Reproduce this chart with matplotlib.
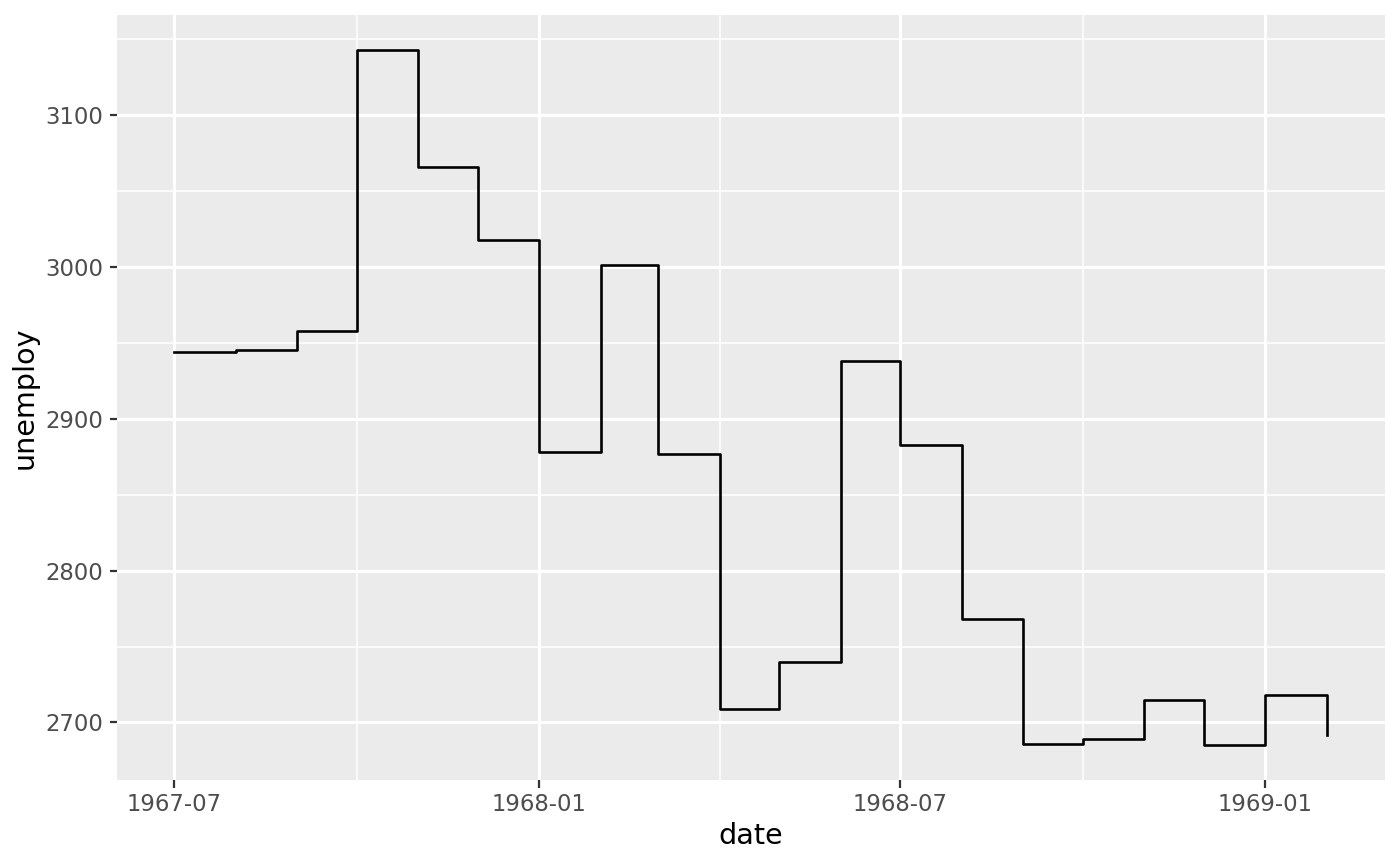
import matplotlib
matplotlib.use("Agg")
import matplotlib.pyplot as plt
import matplotlib.dates as mdates
import numpy as np
import datetime as dt

dates = ["1967-07-01", "1967-08-01", "1967-09-01", "1967-10-01", "1967-11-01",
         "1967-12-01", "1968-01-01", "1968-02-01", "1968-03-01", "1968-04-01",
         "1968-05-01", "1968-06-01", "1968-07-01", "1968-08-01", "1968-09-01",
         "1968-10-01", "1968-11-01", "1968-12-01", "1969-01-01", "1969-02-01"]
unemploy = [2944, 2945, 2958, 3143, 3066, 3018, 2878, 3001, 2877, 2709,
            2740, 2938, 2883, 2768, 2686, 2689, 2715, 2685, 2718, 2692]

x_major = ["1967-07-01", "1968-01-01", "1968-07-01", "1969-01-01"]
x_major_labels = ["1967-07", "1968-01", "1968-07", "1969-01"]
x_minor = ["1967-10-01", "1968-04-01", "1968-10-01"]
y_major = [2700, 2800, 2900, 3000, 3100]
y_minor = [2650, 2750, 2850, 2950, 3050, 3150]

def d(s):
    return mdates.date2num(dt.datetime.strptime(s, "%Y-%m-%d"))

xd = [d(s) for s in dates]

DPI = 200
fig = plt.figure(figsize=(1400 / DPI, 866 / DPI), dpi=DPI)
ax = fig.add_axes([116.5 / 1400, (866 - 780) / 866, 1268 / 1400, 765 / 866])
ax.set_facecolor("#EBEBEB")
for s in ax.spines.values():
    s.set_visible(False)

# grid
for v in y_minor:
    ax.axhline(v, color="white", lw=0.55, zorder=0)
for v in x_minor:
    ax.axvline(d(v), color="white", lw=0.55, zorder=0)
for v in y_major:
    ax.axhline(v, color="white", lw=1.1, zorder=0)
for v in x_major:
    ax.axvline(d(v), color="white", lw=1.1, zorder=0)

ax.step(xd, unemploy, where="post", color="black", lw=0.95, zorder=3)

xr = xd[-1] - xd[0]
ax.set_xlim(xd[0] - 0.05 * xr, xd[-1] + 0.05 * xr)
yr = max(unemploy) - min(unemploy)
ax.set_ylim(min(unemploy) - 0.05 * yr, max(unemploy) + 0.05 * yr)

ax.set_xticks([d(v) for v in x_major])
ax.set_xticklabels(x_major_labels)
ax.set_yticks(y_major)
ax.set_yticklabels([str(v) for v in y_major])
ax.tick_params(axis="both", length=2.7, width=0.8, color="#333333",
               labelcolor="#4D4D4D", labelsize=8.2, pad=2)

ax.set_xlabel("date", fontsize=10.3, color="black", labelpad=2)
ax.set_ylabel("unemploy", fontsize=10.3, color="black", labelpad=2.5)

fig.savefig("out.png", dpi=DPI)
